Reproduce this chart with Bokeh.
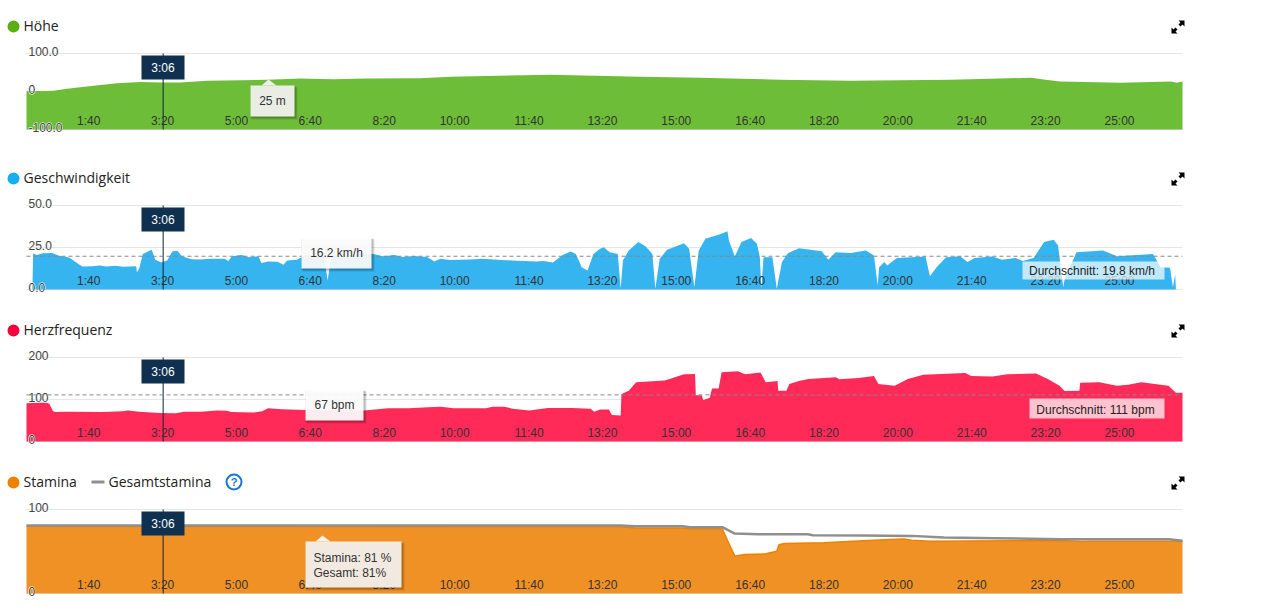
from bokeh.plotting import figure
from bokeh.layouts import column
from bokeh.models import (Range1d, Label, BoxAnnotation, PolyAnnotation)
from bokeh.core.properties import value
from bokeh.embed import file_html
from bokeh.resources import INLINE

# ---- data -------------------------------------------------------------
tick_seconds = [100, 200, 300, 400, 500, 600, 700, 800, 900, 1000, 1100, 1200, 1300, 1400, 1500]
tick_labels = ["1:40", "3:20", "5:00", "6:40", "8:20", "10:00", "11:40", "13:20", "15:00",
               "16:40", "18:20", "20:00", "21:40", "23:20", "25:00"]

alt_t = [0, 37, 55, 91, 123, 155, 182, 209, 245, 291, 327, 372, 417, 463, 535, 576, 712, 834, 915,
         1024, 1119, 1255, 1364, 1384, 1404, 1486, 1554, 1562, 1570]
alt_v = [0.5, 2, 7, 15, 21.6, 25, 23.4, 24, 28, 29.5, 31, 34, 32, 34, 35, 39, 44, 39, 36,
         31, 28, 31, 36, 31, 26, 23, 26, 23, 26]

speed_t = [8, 9, 14, 22, 35, 43, 58, 71, 76, 89, 100, 108, 121, 131, 149, 150, 153, 158, 170, 175,
           183, 191, 198, 205, 211, 224, 235, 250, 269, 274, 279, 292, 302, 315, 319, 328, 341, 349,
           354, 367, 380, 404, 409, 414, 453, 471, 484, 500, 510, 526, 544, 554, 562, 575, 603, 619,
           640, 666, 692, 702, 715, 728, 739, 746, 751, 754, 762, 770, 779,
           784, 792, 803, 807, 810, 818, 831, 841, 850, 854, 860, 870, 893, 900, 907, 913, 922, 943,
           952, 954, 962, 971, 984, 992, 996, 998, 1001, 1013, 1019, 1026, 1034, 1049, 1080, 1089,
           1099, 1119, 1140, 1151, 1156, 1158, 1165, 1169, 1182, 1221, 1227, 1236, 1249, 1268, 1278,
           1288, 1312, 1325, 1343, 1353, 1368, 1382, 1395, 1401, 1408, 1410, 1426, 1462, 1481, 1530,
           1540, 1553, 1557, 1560, 1561]
speed_v = [0, 21.4, 20.6, 21.6, 21.8, 20.2, 19, 15.1, 13.7, 13.9, 14.3, 13.7, 14.1, 13.5, 13.9, 10.3,
           12.3, 21.2, 23.6, 17.7, 16.1, 17.3, 22.6, 23, 19.8, 18, 17.9, 18.3, 18.3, 16.9, 19.8, 20.6,
           19.2, 19.8, 15.7, 16.7, 16.5, 14.7, 17.3, 17.7, 20.6, 20.2, 5.4, 20.2, 21.2, 21.2, 19.8,
           20.6, 19.4, 20, 19.4, 16.7, 18.3, 17.5, 17.9, 18.3, 17.7, 17.1, 16.7, 16.9, 16.1, 20.6,
           22.6, 21.2, 16.3, 13.3, 11.3, 21.2, 24.2,
           25.2, 22.2, 21.2, 0.4, 17.3, 23.2, 28.2, 25.6, 21.2, 0.4, 18.3, 23.6, 27.6, 24.2, 1.4, 23.2,
           30.2, 33.1, 34.7, 29.2, 19.6, 28.2, 30.6, 27.2, 19.2, 0.4, 19.2, 19.2, 0.4, 16.3, 21.6,
           24.6, 22.8, 17.7, 22.2, 21.8, 23.2, 20.2, 2.4, 13.3, 16.3, 14.3, 18.8, 19.6, 7.9, 13.3, 19.2,
           19.8, 16.3, 18.8, 19.6, 17.7, 18.8, 16.9, 18.8, 28.2, 29.6, 26.2, 1.4, 6.3, 22.2, 23.2, 19.8,
           21.2, 13.3, 12.9, 1.4, 8.9, 0.4]
speed_avg = 19.8

hr_t = [0, 26, 31, 36, 40, 53, 103, 131, 138, 153, 181, 203, 214, 236, 259, 272, 278, 308, 320, 328,
        347, 378, 458, 477, 491, 519, 552, 563, 580, 624, 633, 649, 660, 683, 708, 741, 766, 771, 779,
        791, 795, 807, 808, 818, 828, 867, 893, 908, 909, 917, 919, 928, 931, 940, 944, 966, 976, 997,
        1004, 1020, 1021, 1032, 1036, 1049, 1062, 1099, 1104, 1130, 1151, 1157, 1179, 1197, 1218,
        1275, 1283, 1312, 1332, 1371, 1387, 1403, 1410, 1430, 1431, 1457, 1481, 1496, 1514, 1551,
        1561, 1570]
hr_v = [91, 93, 90, 72, 70, 71, 70, 72, 74, 71, 68, 67, 71, 71, 74, 73, 70, 69, 72, 79,
        77, 75, 74, 77, 79, 79, 82, 83, 79, 79, 83, 83, 78, 74, 80, 80, 78, 71, 76,
        76, 63, 62, 113, 121, 141, 145, 160, 161, 110, 110, 99, 104, 126, 126, 165, 167, 160, 164,
        141, 144, 121, 121, 137, 144, 149, 153, 148, 151, 156, 137, 133, 149, 159,
        163, 156, 155, 160, 162, 149, 133, 120, 121, 140, 141, 133, 135, 141, 133,
        116, 116]
hr_avg = 111

total_t = [0, 807, 826, 891, 901, 945, 962, 994, 1061, 1068, 1135, 1202, 1246, 1315, 1404, 1552, 1570]
total_v = [81, 81, 80, 80, 79, 79, 71.4, 70.6, 70.6, 69.4, 69, 68.6, 66.7, 65.9, 64.7, 64.7, 62.7]
stamina_t = [0, 807, 826, 891, 901, 945, 952, 962, 975, 1004, 1019, 1022, 1029, 1083, 1123, 1172, 1192,
             1202, 1226, 1404, 1434, 1444, 1570]
stamina_v = [80, 79.5, 78, 78, 77, 77, 63, 44.5, 46.4, 47.2, 50.4, 58, 59.5, 60.3, 62.3, 64.3, 65,
             63.5, 62.3, 63, 62, 62.3, 62.3]

# the series were read against a 1570 s wide band; the tick spacing gives 1565 s
READ_WIDTH = 1570
X_MAX = 1565
CURSOR_SECONDS = 185
CURSOR_LABEL = "3:06"
SANS = "Liberation Sans"
HEAD = "Open Sans"
FIG_W = 1190
FIG_TOP = [0, 152, 304, 456]
FIG_H = [152, 152, 152, 144]
PLOT_L, PLOT_R = 26, 1182
PLOT_TOP = [53, 205, 357, 509]
PLOT_BOT = [129, 289, 441, 593]


def sec(ts):
    return [t * X_MAX / READ_WIDTH for t in ts]


def make_panel(i, y_min, y_max, y_ticks):
    # the frame fills the whole canvas; the ranges are widened so that the
    # plotted band lands where it belongs and headers are not clipped away
    sx = X_MAX / (PLOT_R - PLOT_L)
    sy = (y_max - y_min) / (PLOT_BOT[i] - PLOT_TOP[i])
    x0 = -PLOT_L * sx
    x1 = (FIG_W - PLOT_L) * sx
    y0 = y_min - (FIG_TOP[i] + FIG_H[i] - PLOT_BOT[i]) * sy
    y1 = y_max + (PLOT_TOP[i] - FIG_TOP[i]) * sy
    p = figure(width=FIG_W, height=FIG_H[i], output_backend="svg", toolbar_location=None,
               x_range=Range1d(x0, x1), y_range=Range1d(y0, y1),
               min_border_left=0, min_border_right=0, min_border_top=0, min_border_bottom=0,
               outline_line_color=None, background_fill_color="white", border_fill_color="white")
    p.xaxis.visible = False
    p.yaxis.visible = False
    p.xgrid.visible = False
    p.ygrid.visible = False
    n = len(y_ticks)
    p.segment(x0=[0] * n, y0=y_ticks, x1=[X_MAX] * n, y1=y_ticks, line_color="#e6e6e6", line_width=1)
    return p


def cy(i, py):
    return py - FIG_TOP[i]


def add_text(p, i, px, py, text, color="#333333", size="12px", font=SANS, align="left", style="normal"):
    p.add_layout(Label(x=px, y=cy(i, py), x_units="canvas", y_units="canvas", text=text,
                       text_color=color, text_font_size=size, text_font=font, text_align=align,
                       text_baseline="middle", text_font_style=style))


def add_box(p, i, l, t, r, b, fill, alpha=1.0, line=None, width=1, radius=0):
    p.add_layout(BoxAnnotation(left=l, right=r, top=cy(i, t), bottom=cy(i, b),
                               left_units="canvas", right_units="canvas", top_units="canvas",
                               bottom_units="canvas", fill_color=fill, fill_alpha=alpha,
                               line_color=line, line_alpha=1.0, line_width=width, border_radius=radius))


def add_poly(p, i, pts, fill, alpha=1.0):
    p.add_layout(PolyAnnotation(xs=[a for a, _ in pts], ys=[cy(i, b) for _, b in pts],
                                xs_units="canvas", ys_units="canvas", fill_color=fill,
                                fill_alpha=alpha, line_color=None))


def decorate(p, i, y_min, y_max, y_ticks, y_labels):
    p.segment(x0=[CURSOR_SECONDS], y0=[y_min], x1=[CURSOR_SECONDS], y1=[y_max], line_color="#12233a", line_width=1)
    p.text(x=tick_seconds, y=[y_min] * len(tick_seconds), text=tick_labels, text_align="right",
           text_baseline="middle", y_offset=-9, text_color="#333333", text_font_size=value("12px"),
           text_font=value(SANS))
    p.text(x=[0] * len(y_ticks), y=y_ticks, text=y_labels, text_align="left", text_baseline="middle",
           x_offset=2, y_offset=-2, text_color="#444444", text_font_size=value("12px"),
           text_font=value(SANS), text_outline_color="white")
    p.text(x=[0] * len(y_ticks), y=y_ticks, text=y_labels, text_align="left", text_baseline="middle",
           x_offset=2, y_offset=-2, text_color="#444444", text_font_size=value("12px"),
           text_font=value(SANS))


def avg_line(p, level):
    p.segment(x0=[0], y0=[level], x1=[X_MAX], y1=[level], line_color="#888888", line_dash="4 3", line_width=1)


def cursor_box(p, i):
    top = PLOT_TOP[i] + 2
    add_box(p, i, 141, top, 184, top + 24, "#10304f")
    add_text(p, i, 162.5, top + 12.5, CURSOR_LABEL, color="white", align="center")


def expand_icon(p, i):
    o = FIG_TOP[i]
    arrow = [(1178, 20), (1184, 20), (1184, 26), (1182, 24), (1180, 26), (1178, 24), (1180, 22)]
    add_poly(p, i, [(a, b + o) for a, b in arrow], "#000000")
    add_poly(p, i, [(2355 - a, 53 - b + o) for a, b in arrow], "#000000")


def tooltip(p, i, l, t, r, b, fill, alpha=0.92):
    add_box(p, i, l + 1, t + 2, r + 3, b + 3, "#000000", 0.10)
    add_box(p, i, l, t + 1, r + 2, b + 2, "#000000", 0.18)
    add_box(p, i, l, t, r, b, fill, alpha)


def legend(p, i, name, color):
    y = FIG_TOP[i] + 26
    add_box(p, i, 7, y - 6, 19, y + 6, color, radius=6)
    add_text(p, i, 23, y - 1, name, color="#222222", size="14px", font=HEAD)


# ---- Höhe ---------------------------------------------------------------
p0 = make_panel(0, -100, 100, [-100, 0, 100])
p0.varea(x=sec(alt_t), y1=[-100] * len(alt_t), y2=alt_v, fill_color="#69bb32", fill_alpha=0.97)
decorate(p0, 0, -100, 100, [-100, 0, 100], ["-100.0", "0", "100.0"])
cursor_box(p0, 0)
legend(p0, 0, "Höhe", "#5aaf14")
expand_icon(p0, 0)
add_poly(p0, 0, [(261, 85), (268, 79), (276, 85)], "#eef0ea")
tooltip(p0, 0, 250, 85, 294, 116, "#f1f2ee", 0.95)
add_text(p0, 0, 272, 100.5, "25 m", align="center")

# ---- Geschwindigkeit ----------------------------------------------------
p1 = make_panel(1, 0, 50, [0, 25, 50])
p1.varea(x=sec(speed_t), y1=[0] * len(speed_t), y2=speed_v, fill_color="#35b4f0", fill_alpha=1)
decorate(p1, 1, 0, 50, [0, 25, 50], ["0.0", "25.0", "50.0"])
avg_line(p1, speed_avg)
cursor_box(p1, 1)
legend(p1, 1, "Geschwindigkeit", "#16aef2")
expand_icon(p1, 1)
tooltip(p1, 1, 301, 237, 371, 268, "#ffffff", 0.92)
add_text(p1, 1, 336, 252.5, "16.2 km/h", align="center")
add_box(p1, 1, 1022, 261, 1164, 279, "#ffffff", 0.7)
add_text(p1, 1, 1091.5, 270.5, "Durchschnitt: 19.8 km/h", color="#222222", align="center")

# ---- Herzfrequenz -------------------------------------------------------
p2 = make_panel(2, 0, 200, [0, 100, 200])
p2.varea(x=sec(hr_t), y1=[0] * len(hr_t), y2=hr_v, fill_color="#ff2655", fill_alpha=0.98)
decorate(p2, 2, 0, 200, [0, 100, 200], ["0", "100", "200"])
avg_line(p2, hr_avg)
cursor_box(p2, 2)
legend(p2, 2, "Herzfrequenz", "#f5003d")
expand_icon(p2, 2)
tooltip(p2, 2, 305, 389, 363, 420, "#ffffff", 0.92)
add_text(p2, 2, 334, 404.5, "67 bpm", align="center")
add_box(p2, 2, 1029, 398, 1164, 418, "#ffffff", 0.72)
add_text(p2, 2, 1095, 409.5, "Durchschnitt: 111 bpm", color="#222222", align="center")

# ---- Stamina ------------------------------------------------------------
p3 = make_panel(3, 0, 100, [0, 100])
p3.varea(x=sec(stamina_t), y1=[0] * len(stamina_t), y2=stamina_v, fill_color="#f09126", fill_alpha=1)
p3.line(x=sec(stamina_t), y=stamina_v, line_color="#f08000", line_width=1.5)
p3.line(x=sec(total_t), y=total_v, line_color="#8f8f8f", line_width=2.5)
decorate(p3, 3, 0, 100, [0, 100], ["0", "100"])
cursor_box(p3, 3)
legend(p3, 3, "Stamina", "#f08000")
add_box(p3, 3, 91, 480, 104, 483, "#8f8f8f")
add_text(p3, 3, 108, 481, "Gesamtstamina", color="#222222", size="14px", font=HEAD)
add_box(p3, 3, 226, 474, 241, 489, "#ffffff", 0, line="#1976d2", width=2, radius=8)
add_text(p3, 3, 233.5, 481.5, "?", color="#1976d2", size="11px", font=SANS, align="center", style="bold")
expand_icon(p3, 3)
add_poly(p3, 3, [(315, 541), (322, 535), (330, 541)], "#f3efe9")
tooltip(p3, 3, 305, 541, 401, 587, "#f5f1ec", 0.95)
add_text(p3, 3, 313, 557, "Stamina: 81 %")
add_text(p3, 3, 313, 572, "Gesamt: 81%")

layout = column(p0, p1, p2, p3, spacing=0)
open("out.html", "w").write(file_html(layout, INLINE))
